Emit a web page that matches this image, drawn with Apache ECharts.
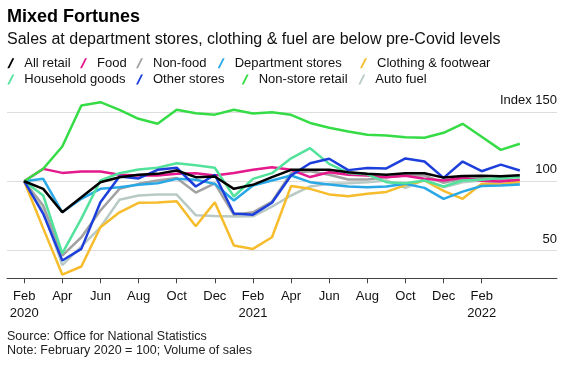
<!DOCTYPE html>
<html><head><meta charset="utf-8">
<script src="https://cdn.jsdelivr.net/npm/echarts@6/dist/echarts.min.js"></script>
<style>html,body{margin:0;padding:0;background:#fff}#c{width:568px;height:369px}</style>
</head><body><div id="c"></div>
<script>
// Months: Feb 2020 ... Apr 2022 (index 0..26)
const months = ['Feb 2020','Mar 2020','Apr 2020','May 2020','Jun 2020','Jul 2020','Aug 2020','Sep 2020','Oct 2020','Nov 2020','Dec 2020',
  'Jan 2021','Feb 2021','Mar 2021','Apr 2021','May 2021','Jun 2021','Jul 2021','Aug 2021','Sep 2021','Oct 2021','Nov 2021','Dec 2021',
  'Jan 2022','Feb 2022','Mar 2022','Apr 2022'];
const tickIndex = [0,2,4,6,8,10,12,14,16,18,20,22,24];
const tickLabels = ['Feb\n2020','Apr','Jun','Aug','Oct','Dec','Feb\n2021','Apr','Jun','Aug','Oct','Dec','Feb\n2022'];
const yTicks = [50,100,150];
const yTickLabels = ['50','100','Index 150'];

const allRetail   = [100,94.5,77.6,88.5,99.3,102.9,104.6,105.3,107.7,102.9,103.4,94.5,97.4,102.9,108.2,108.2,108.2,106.5,105.3,104.6,105.8,105.8,102.6,103.8,104,103.5,104.3];
const food        = [100,108.9,106,107,107,104.6,104.1,104.1,105.3,105.8,104.1,106,108.2,110.1,108.2,103,106.5,104.6,104.1,102.9,104,101.7,100.5,102.5,100.3,99.8,101];
const nonFood     = [100,82.5,46.4,59.6,78.9,94.5,98.1,100.5,102.4,91.8,98.5,75.8,77.6,85.4,105.8,107.2,104.6,101.2,101.2,102.9,104.1,104.1,98.8,101.7,102.2,101,100.5];
const deptStores  = [100,101.7,77.6,87.3,94.5,95.7,97.4,98.6,101.7,101,98.1,86.1,96.9,100.5,104.1,99.3,97.6,96.2,95.7,96.2,98.1,95.2,87.3,92.5,96.6,96.9,97.6];
const clothing    = [100,66,32.7,38.5,66.8,77.6,84.4,84.6,85.6,67.5,84.8,53.6,51.2,59.6,96.5,94.5,90.5,89.2,91,92.3,97.2,100.5,93,87.3,98.1,97.6,99.8];
const household   = [100,89.7,48,73,100.5,105.8,108.4,109.7,113,111.5,109.7,89,101.7,105.8,116.5,123.8,112.5,106,105,99.3,98.5,100.5,96.2,100.5,101,102.4,102.9];
const otherStores = [100,76.5,42.8,51.2,84.8,103.4,102,108.2,109.7,96.2,104.7,76.7,75.9,84.5,104.1,113,116.2,108,109.5,109.2,116.4,114.2,102.4,114.2,107.2,112,107.7];
const nonStore    = [100,109,125,154.6,157,151.5,145,141.4,151.5,149,148,151.5,148.8,149.8,147.9,142,138.5,135.9,133.5,133,131.7,131.3,134.9,141.4,132,122.6,127];
const autoFuel    = [100,78.9,39.5,53,66.8,86.6,89.7,90.4,90.4,75.5,75,74.6,74.7,81.7,89.7,96.2,98.1,98.6,99.3,100.5,95.2,101,95.7,99.3,100.5,98.1,98.1];

const FONT = '"Liberation Sans", Arial, sans-serif';
const defs = [
  {name:'Auto fuel', data:autoFuel, color:'#b9cac6'},
  {name:'Non-food', data:nonFood, color:'#a2a2a2'},
  {name:'Clothing & footwear', data:clothing, color:'#f6bc2c'},
  {name:'Food', data:food, color:'#e3198c'},
  {name:'Department stores', data:deptStores, color:'#2aa8e6'},
  {name:'Household goods', data:household, color:'#52e29c'},
  {name:'Non-store retail', data:nonStore, color:'#35dc45'},
  {name:'Other stores', data:otherStores, color:'#1c3fdc'},
  {name:'All retail', data:allRetail, color:'#000000'}
];
const legendRow1 = ['All retail','Food','Non-food','Department stores','Clothing & footwear'];
const legendRow2 = ['Household goods','Other stores','Non-store retail','Auto fuel'];
const row1X = [7.3, 80, 136, 217.7, 360];
const row2X = [7.3, 136, 241.7, 358.3];

const slash = 'path://M0,10 L2,10 L7,0 L5,0 Z';
function mkLegend(name, x, top) {
  return {
    data:[name], left: x, top: top, padding:0, itemWidth:7, itemHeight:10, icon: slash,
    symbolKeepAspect:false,
    itemStyle:{borderWidth:0}, selectedMode:false,
    textStyle:{fontSize:13, color:'#111', fontFamily:FONT, lineHeight:14, padding:[0,0,0,5]}
  };
}
const legends = [];
legendRow1.forEach((n,i)=>legends.push(mkLegend(n,row1X[i],56.3)));
legendRow2.forEach((n,i)=>legends.push(mkLegend(n,row2X[i],72.5)));

const series = defs.map((d, k) => {
  const s = {
    name:d.name, type:'line', showSymbol:false, symbol:'none',
    data: d.data.map((v,i)=>[i,v]),
    lineStyle:{width:2.5, color:d.color}, itemStyle:{color:d.color},
    emphasis:{disabled:true}, z:2
  };
  if (k === 0) {
    s.markLine = {
      silent:true, symbol:['none','none'], z:1, label:{show:false}, animation:false,
      lineStyle:{color:'#dddddd', type:'solid', width:1},
      data: yTicks.map(v=>({yAxis:v}))
    };
  }
  return s;
});

const chart = echarts.init(document.getElementById('c'), null, {renderer:'canvas'});
chart.setOption({
  animation:false,
  backgroundColor:'#ffffff',
  title:[
    {text:'Mixed Fortunes', left:7, top:7.8, padding:0, textStyle:{fontSize:18, fontWeight:'bold', color:'#000', fontFamily:FONT}},
    {text:'Sales at department stores, clothing & fuel are below pre-Covid levels', left:7, top:31.3, padding:0,
      textStyle:{fontSize:16, fontWeight:'normal', color:'#111', fontFamily:FONT}},
    {text:'Source: Office for National Statistics\nNote: February 2020 = 100; Volume of sales', left:7, top:329.5, padding:0,
      textStyle:{fontSize:12.5, fontWeight:'normal', color:'#222', fontFamily:FONT, lineHeight:14}}
  ],
  legend: legends,
  grid:{left:7, right:11, top:98, bottom:90.7},
  xAxis:{
    type:'value', min:-0.9, max:27.95, splitLine:{show:false},
    axisLine:{show:true, onZero:false, lineStyle:{color:'#444', width:1}},
    axisTick:{show:true, customValues:tickIndex, length:5, lineStyle:{color:'#444'}},
    axisLabel:{show:true, customValues:tickIndex, formatter:(v)=>tickLabels[tickIndex.indexOf(v)],
      color:'#111', fontSize:13, lineHeight:16.5, margin:10, fontFamily:FONT}
  },
  yAxis:{
    type:'value', min:30, max:160, position:'right', splitLine:{show:false},
    axisLine:{show:false}, axisTick:{show:false},
    axisLabel:{show:true, customValues:yTicks, inside:true, margin:0, align:'right', verticalAlign:'bottom',
      padding:[0,0,5,0], formatter:(v)=>yTickLabels[yTicks.indexOf(v)], color:'#111', fontSize:13, fontFamily:FONT}
  },
  series: series
});
</script>
</body></html>
